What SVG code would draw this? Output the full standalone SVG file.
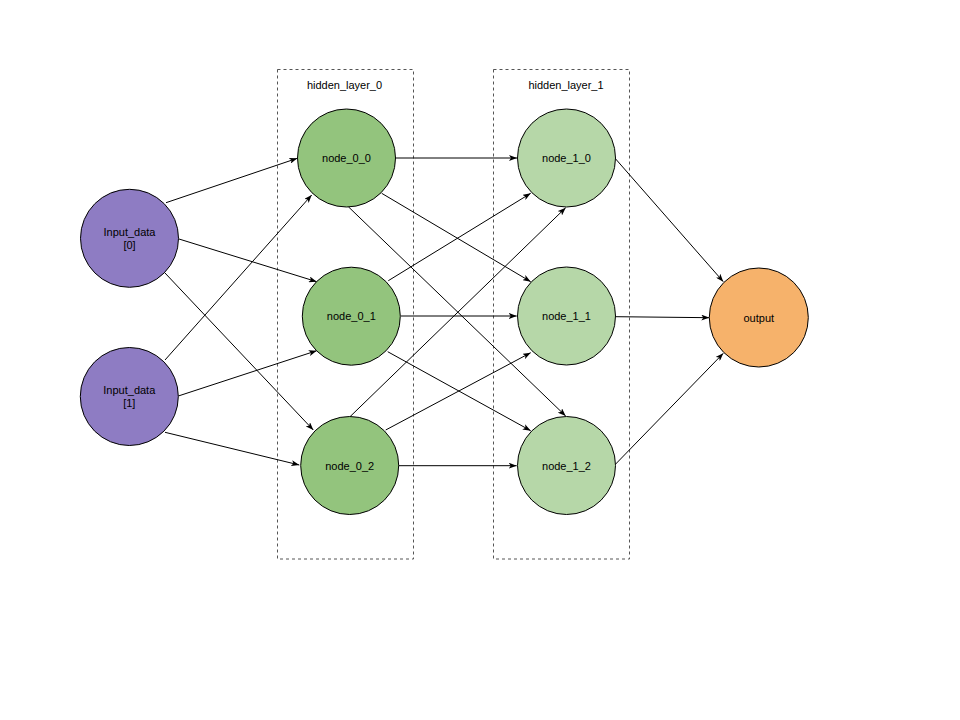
<svg xmlns="http://www.w3.org/2000/svg" width="960" height="720" viewBox="0 0 960 720">
<defs>
<style>
.box{fill:none;stroke:#555;stroke-width:1;stroke-dasharray:3 3}
.n{stroke:#000;stroke-width:1}
.in{fill:#8E7CC3}
.h0{fill:#93C47D}
.h1{fill:#B6D7A8}
.out{fill:#F6B26B}
.t{font-family:"Liberation Sans",Arial,sans-serif;font-size:11px;fill:#000;text-anchor:middle}
.e line{stroke:#000;stroke-width:1;marker-end:url(#arr)}
</style>
<marker id="arr" viewBox="0 0 8 6" refX="8" refY="3" markerWidth="8" markerHeight="6" markerUnits="userSpaceOnUse" orient="auto">
<path d="M0,0 L8,3 L0,6 L2,3 z" fill="#000"/>
</marker>
</defs>
<rect width="960" height="720" fill="#fff"/>
<g id="hidden_layer_0">
<rect class="box" x="277.5" y="69.5" width="136" height="489.5"/>
<text class="t" x="344.5" y="89">hidden_layer_0</text>
</g>
<g id="hidden_layer_1">
<rect class="box" x="493.5" y="69.5" width="136" height="489.5"/>
<text class="t" x="566" y="89">hidden_layer_1</text>
</g>
<g id="connectors" class="e">
<line x1="166" y1="202.7" x2="297.3" y2="158.3"/>
<line x1="179" y1="239" x2="316.7" y2="281.7"/>
<line x1="165" y1="273" x2="313.3" y2="430"/>
<line x1="165" y1="360" x2="311.7" y2="195"/>
<line x1="178.3" y1="396" x2="316.7" y2="350.7"/>
<line x1="165" y1="432.3" x2="299.3" y2="465"/>
<line x1="396" y1="158" x2="517" y2="158"/>
<line x1="381.7" y1="193.3" x2="530.7" y2="281.7"/>
<line x1="348.3" y1="206.7" x2="565.7" y2="416"/>
<line x1="388.3" y1="280.7" x2="530.7" y2="193.3"/>
<line x1="401" y1="316" x2="516.7" y2="316"/>
<line x1="387.7" y1="351.7" x2="530.7" y2="430.7"/>
<line x1="350" y1="416.7" x2="565.7" y2="207.7"/>
<line x1="385.7" y1="430" x2="530.7" y2="352.7"/>
<line x1="398.3" y1="465.7" x2="516.7" y2="465.7"/>
<line x1="615.7" y1="159" x2="723.3" y2="281.7"/>
<line x1="615.7" y1="316.7" x2="709.3" y2="317.7"/>
<line x1="615.7" y1="464" x2="723.3" y2="353.3"/>
</g>
<g id="input_0">
<circle class="n in" cx="129.5" cy="238.3" r="49"/>
<text class="t" x="129.5" y="236">Input_data</text>
<text class="t" x="129.5" y="249">[0]</text>
</g>
<g id="input_1">
<circle class="n in" cx="129.3" cy="396.5" r="49"/>
<text class="t" x="129.3" y="394">Input_data</text>
<text class="t" x="129.3" y="407">[1]</text>
</g>
<g id="node_0_0">
<circle class="n h0" cx="346.5" cy="158" r="49"/>
<text class="t" x="346.5" y="162">node_0_0</text>
</g>
<g id="node_0_1">
<circle class="n h0" cx="351.3" cy="316.2" r="49"/>
<text class="t" x="351.3" y="320">node_0_1</text>
</g>
<g id="node_0_2">
<circle class="n h0" cx="349.7" cy="465.5" r="49"/>
<text class="t" x="349.7" y="469.5">node_0_2</text>
</g>
<g id="node_1_0">
<circle class="n h1" cx="566.5" cy="158" r="49"/>
<text class="t" x="566.5" y="162">node_1_0</text>
</g>
<g id="node_1_1">
<circle class="n h1" cx="566.5" cy="316" r="49"/>
<text class="t" x="566.5" y="320">node_1_1</text>
</g>
<g id="node_1_2">
<circle class="n h1" cx="566.5" cy="465.5" r="49"/>
<text class="t" x="566.5" y="469.5">node_1_2</text>
</g>
<g id="output">
<circle class="n out" cx="758.8" cy="317.5" r="49.5"/>
<text class="t" x="758.8" y="321.5">output</text>
</g>
</svg>
